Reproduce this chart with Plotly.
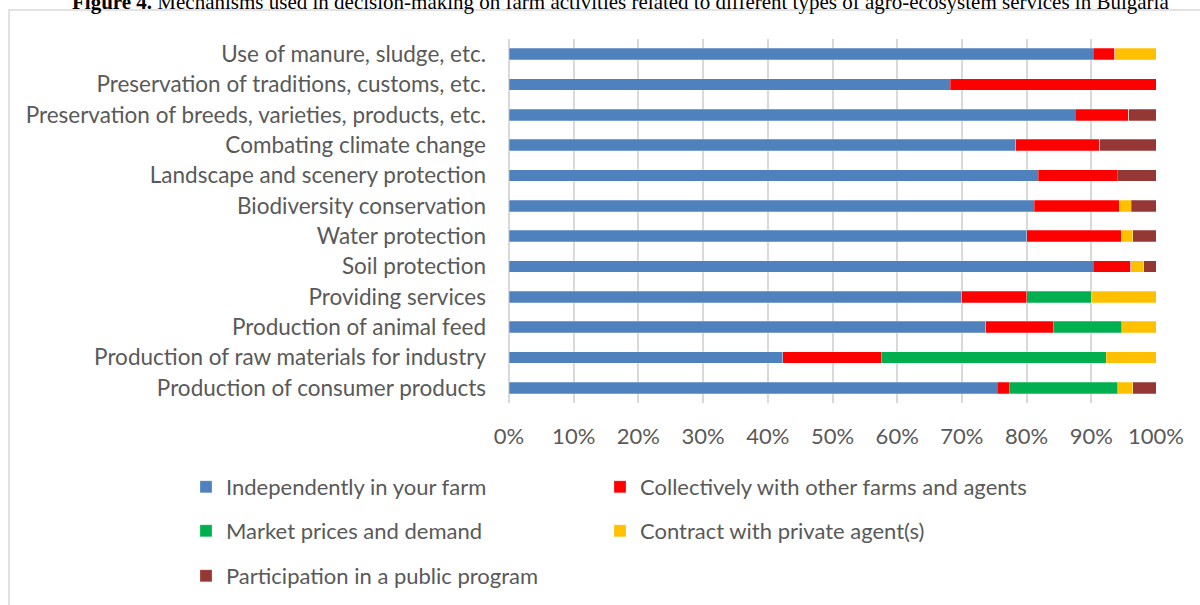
import plotly.graph_objects as go

services = [
    "Use of manure, sludge, etc.",
    "Preservation of traditions, customs, etc.",
    "Preservation of breeds, varieties, products, etc.",
    "Combating climate change",
    "Landscape and scenery protection",
    "Biodiversity conservation",
    "Water protection",
    "Soil protection",
    "Providing services",
    "Production of animal feed",
    "Production of raw materials for industry",
    "Production of consumer products",
]

independently = [90.3, 68.2, 87.5, 78.3, 81.8, 81.2, 80.0, 90.3, 70.0, 73.7, 42.3, 75.5]
collectively = [3.3, 31.8, 8.3, 13.0, 12.2, 13.1, 14.6, 5.8, 10.0, 10.5, 15.3, 1.8]
market = [0, 0, 0, 0, 0, 0, 0, 0, 10.0, 10.5, 34.7, 16.8]
contract = [6.4, 0, 0, 0, 0, 1.9, 1.8, 2.0, 10.0, 5.3, 7.7, 2.3]
public_program = [0, 0, 4.2, 8.7, 6.0, 3.8, 3.6, 1.9, 0, 0, 0, 3.6]

W, H = 1200, 605
L, R, T, B = 509, 44, 39, 202
pw, ph = W - L - R, H - T - B


def px_x(x):
    return (x - L) / pw


def px_y(y):
    return (H - B - y) / ph


# name, values, colour, legend, legend position (x, y) in pixels
series = [
    ("Independently in your farm", independently, "#4F81BD", "legend", 186, 487),
    ("Collectively with other farms and agents", collectively, "#FF0000", "legend2", 600, 487),
    ("Market prices and demand", market, "#00B050", "legend3", 186, 531),
    ("Contract with private agent(s)", contract, "#FFC000", "legend4", 600, 531),
    ("Participation in a public program", public_program, "#953735", "legend5", 186, 576),
]

font = "Lato, Calibri, sans-serif"

fig = go.Figure()
legends = {}
for name, vals, color, lg, lx, ly in series:
    fig.add_trace(go.Bar(
        y=services, x=vals, name=name, orientation="h",
        marker=dict(color=color, line=dict(color="rgba(255,255,255,0.5)", width=0.5)),
        legend=lg,
    ))
    legends[lg] = dict(
        orientation="h", xanchor="left", yanchor="middle",
        x=px_x(lx), y=px_y(ly), bgcolor="rgba(0,0,0,0)",
        font=dict(family=font, size=22, color="#595959"),
    )

fig.update_layout(
    width=W, height=H,
    margin=dict(l=L, r=R, t=T, b=B, autoexpand=False),
    barmode="stack", bargap=0.62,
    plot_bgcolor="white", paper_bgcolor="white",
    font=dict(family=font, size=22, color="#595959"),
    showlegend=True,
    **legends,
    xaxis=dict(
        range=[0, 100], dtick=10, ticksuffix="%",
        showgrid=True, gridcolor="#D9D9D9", gridwidth=1.5,
        zeroline=True, zerolinecolor="#D9D9D9", zerolinewidth=1.5,
        showline=False, ticks="", ticklabelstandoff=18,
        tickfont=dict(family=font, size=22, color="#595959"),
        fixedrange=True,
    ),
    yaxis=dict(
        autorange="reversed", showgrid=False, ticks="",
        ticklabelstandoff=22,
        tickfont=dict(family=font, size=22.5, color="#595959"),
    ),
    shapes=[dict(
        type="rect", xref="paper", yref="paper",
        x0=px_x(9), x1=px_x(1210), y0=px_y(10), y1=px_y(620),
        line=dict(color="#D9D9D9", width=1.5), fillcolor="rgba(0,0,0,0)",
        layer="below",
    )],
    annotations=[dict(
        xref="paper", yref="paper", x=px_x(620), y=px_y(2),
        xanchor="center", yanchor="middle", showarrow=False,
        text="<b>Figure 4.</b> Mechanisms used in decision-making on farm activities "
             "related to different types of agro-ecosystem services in Bulgaria",
        font=dict(family="Liberation Serif, Times New Roman, serif", size=21, color="black"),
    )],
)

fig.write_html("out.html", config={"displayModeBar": False},
               post_script="document.body.style.margin = '0';")
